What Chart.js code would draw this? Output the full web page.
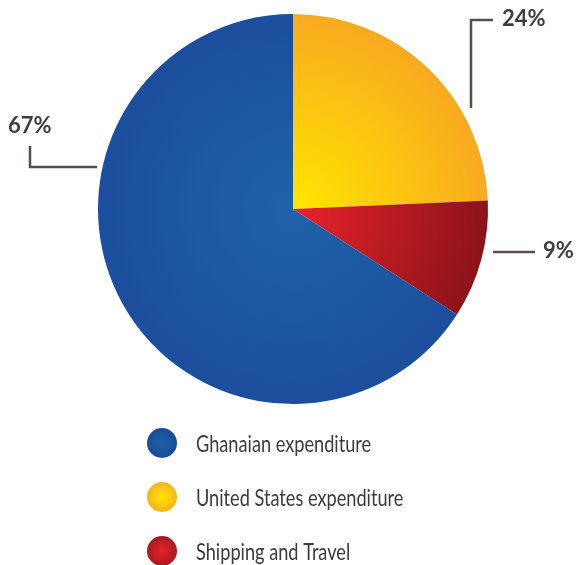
<!DOCTYPE html>
<html>
<head>
<meta charset="utf-8">
<script src="https://cdn.jsdelivr.net/npm/chart.js@4"></script>
<style>
  html, body { margin: 0; padding: 0; background: #fff; }
  #wrap { width: 581px; height: 565px; }
</style>
</head>
<body>
<div id="wrap"><canvas id="myChart" width="581" height="565"></canvas></div>
<script>
const labels = ['United States expenditure', 'Shipping and Travel', 'Ghanaian expenditure'];
// slice sizes as drawn in the picture
const values = [24.3, 9.8, 65.9];
const valueLabels = ['24%', '9%', '67%'];
// inner / outer colours of each slice gradient
const innerColors = ['#ffe600', '#e8232b', '#1e63aa'];
const outerColors = ['#f8aa1f', '#8c1319', '#1b4e9d'];
const legendEdge = ['#f7b41c', '#a8191f', '#1a4b97'];
const legendOrder = [2, 0, 1];

function sliceGradient(context) {
	const chart = context.chart;
	const area = chart.chartArea;
	if (!area) return innerColors[context.dataIndex];
	const cx = (area.left + area.right) / 2;
	const cy = (area.top + area.bottom) / 2;
	const r = Math.min(area.right - area.left, area.bottom - area.top) / 2;
	const g = chart.ctx.createRadialGradient(cx, cy, 0, cx, cy, r);
	g.addColorStop(0, innerColors[context.dataIndex]);
	g.addColorStop(1, outerColors[context.dataIndex]);
	return g;
}

// callouts: leader lines + percentage text, placed relative to the pie
const calloutPlugin = {
	id: 'callouts',
	afterDatasetsDraw(chart) {
		const ctx = chart.ctx;
		const arc = chart.getDatasetMeta(0).data[0];
		const cx = arc.x, cy = arc.y;
		ctx.save();
		ctx.strokeStyle = '#574e4a';
		ctx.lineWidth = 2.5;
		ctx.fillStyle = '#3d3d3d';
		ctx.font = 'bold 22px Lato';
		ctx.textBaseline = 'middle';
		ctx.textAlign = 'left';

		// 24%
		ctx.beginPath();
		ctx.moveTo(cx + 178, cy - 101);
		ctx.lineTo(cx + 178, cy - 189);
		ctx.lineTo(cx + 200, cy - 189);
		ctx.stroke();
		ctx.fillText(valueLabels[0], cx + 209, cy - 190);

		// 9%
		ctx.beginPath();
		ctx.moveTo(cx + 200, cy + 43);
		ctx.lineTo(cx + 242, cy + 43);
		ctx.stroke();
		ctx.fillText(valueLabels[1], cx + 250, cy + 42);

		// 67%
		ctx.beginPath();
		ctx.moveTo(cx - 263, cy - 63);
		ctx.lineTo(cx - 263, cy - 42);
		ctx.lineTo(cx - 196, cy - 42);
		ctx.stroke();
		ctx.fillText(valueLabels[2], cx - 285, cy - 83);
		ctx.restore();
	}
};

// legend drawn below the pie with gradient circles
const legendPlugin = {
	id: 'circleLegend',
	afterDraw(chart) {
		const ctx = chart.ctx;
		const area = chart.chartArea;
		const x = 162;
		let y = area.bottom + 39;
		ctx.save();
		ctx.font = '23px Lato';
		ctx.textBaseline = 'alphabetic';
		ctx.textAlign = 'left';
		legendOrder.forEach(i => {
			const g = ctx.createRadialGradient(x, y, 0, x, y, 15);
			g.addColorStop(0, innerColors[i]);
			g.addColorStop(1, legendEdge[i]);
			ctx.fillStyle = g;
			ctx.beginPath();
			ctx.arc(x, y, 15, 0, Math.PI * 2);
			ctx.fill();
			// narrow the text like the condensed face in the original
			ctx.save();
			ctx.translate(x + 34, y + 9);
			ctx.scale(0.79, 1);
			ctx.fillStyle = '#3b3b3b';
			ctx.fillText(labels[i], 0, 0);
			ctx.restore();
			y += 54;
		});
		ctx.restore();
	}
};

const ctx = document.getElementById('myChart');
new Chart(ctx, {
	type: 'pie',
	data: {
		labels: labels,
		datasets: [{
			data: values,
			backgroundColor: sliceGradient,
			borderWidth: 0
		}]
	},
	options: {
		responsive: false,
		animation: false,
		layout: {
			padding: { left: 98, right: 93, top: 14, bottom: 161 }
		},
		plugins: {
			legend: { display: false },
			tooltip: { enabled: false }
		}
	},
	plugins: [calloutPlugin, legendPlugin]
});
</script>
</body>
</html>
